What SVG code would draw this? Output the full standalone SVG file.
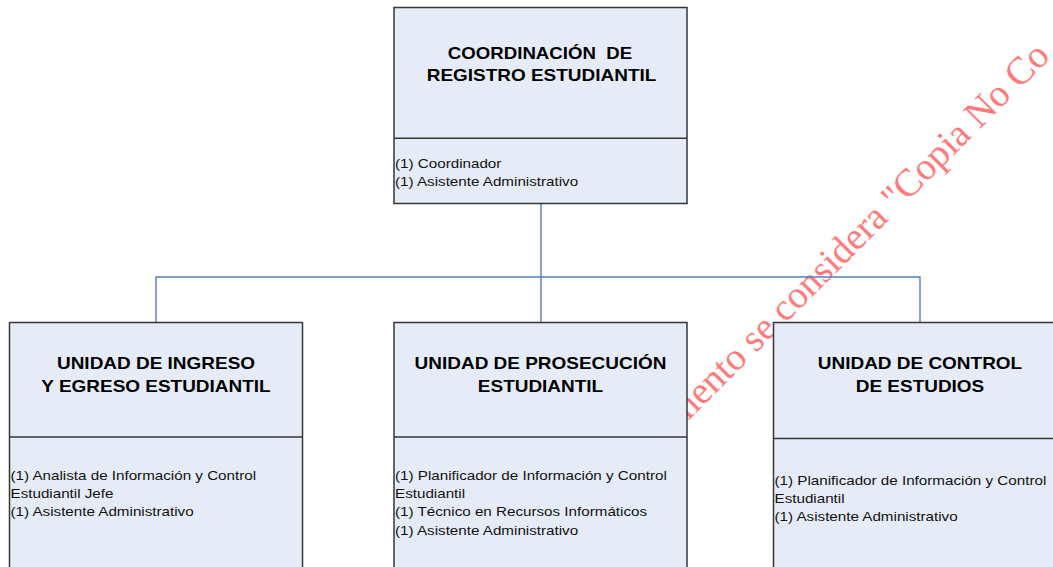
<svg xmlns="http://www.w3.org/2000/svg" width="1053" height="567" viewBox="0 0 1053 567">
<style>
.box{fill:#E6ECF7;stroke:#363636;stroke-width:1.5}
.div{stroke:#363636;stroke-width:1.5}
.title{font-family:"Liberation Sans",Arial,sans-serif;font-weight:bold;font-size:16.5px;fill:#000;text-anchor:middle}
.body{font-family:"Liberation Sans",Arial,sans-serif;font-size:13px;fill:#111}
.conn{fill:none;stroke:#4F81BD;stroke-width:1.4}
.wm{font-family:"Liberation Serif","Times New Roman",serif;font-size:38.5px;fill:#FF7A7A}
</style>
<rect width="1053" height="567" fill="#fff"/>
<text class="wm" transform="translate(681,428) rotate(-45)">mento se considera &quot;Copia No Co</text>
<g id="connectors">
<path class="conn" d="M541,203.5 V322.5"/>
<path class="conn" d="M156,322.5 V277 H920 V322.5"/>
</g>
<g id="coordinacion">
<rect class="box" x="394" y="7.5" width="293" height="196"/>
<line class="div" x1="394" y1="138.3" x2="687" y2="138.3"/>
<g transform="translate(540,0) scale(1.13,1)">
<text class="title" x="0" y="59.3" xml:space="preserve" style="white-space:pre">COORDINACIÓN  DE</text>
</g>
<g transform="translate(541.5,0) scale(1.15,1)">
<text class="title" x="0" y="81.5">REGISTRO ESTUDIANTIL</text>
</g>
<g transform="translate(395,0) scale(1.17,1)">
<text class="body" x="0" y="168">(1) Coordinador</text>
<text class="body" x="0" y="186">(1) Asistente Administrativo</text>
</g>
</g>
<g id="ingreso">
<rect class="box" x="9.5" y="322.5" width="293" height="262"/>
<line class="div" x1="9.5" y1="437" x2="302.5" y2="437"/>
<g transform="translate(156,0) scale(1.15,1)">
<text class="title" x="0" y="369.5">UNIDAD DE INGRESO</text>
<text class="title" x="0" y="392">Y EGRESO ESTUDIANTIL</text>
</g>
<g transform="translate(10.5,0) scale(1.17,1)">
<text class="body" x="0" y="480">(1) Analista de Información y Control</text>
<text class="body" x="0" y="498">Estudiantil Jefe</text>
<text class="body" x="0" y="516">(1) Asistente Administrativo</text>
</g>
</g>
<g id="prosecucion">
<rect class="box" x="394" y="322.5" width="293" height="262"/>
<line class="div" x1="394" y1="437" x2="687" y2="437"/>
<g transform="translate(540.5,0) scale(1.15,1)">
<text class="title" x="0" y="369.5">UNIDAD DE PROSECUCIÓN</text>
<text class="title" x="0" y="392">ESTUDIANTIL</text>
</g>
<g transform="translate(395,0) scale(1.17,1)">
<text class="body" x="0" y="480">(1) Planificador de Información y Control</text>
<text class="body" x="0" y="498">Estudiantil</text>
<text class="body" x="0" y="516.5">(1) Técnico en Recursos Informáticos</text>
<text class="body" x="0" y="535">(1) Asistente Administrativo</text>
</g>
</g>
<g id="control">
<rect class="box" x="773.5" y="322.5" width="293" height="262"/>
<line class="div" x1="773.5" y1="438.5" x2="1066.5" y2="438.5"/>
<g transform="translate(920,0) scale(1.15,1)">
<text class="title" x="0" y="369.5">UNIDAD DE CONTROL</text>
<text class="title" x="0" y="392">DE ESTUDIOS</text>
</g>
<g transform="translate(774.5,0) scale(1.17,1)">
<text class="body" x="0" y="485">(1) Planificador de Información y Control</text>
<text class="body" x="0" y="503">Estudiantil</text>
<text class="body" x="0" y="521.5">(1) Asistente Administrativo</text>
</g>
</g>
</svg>
